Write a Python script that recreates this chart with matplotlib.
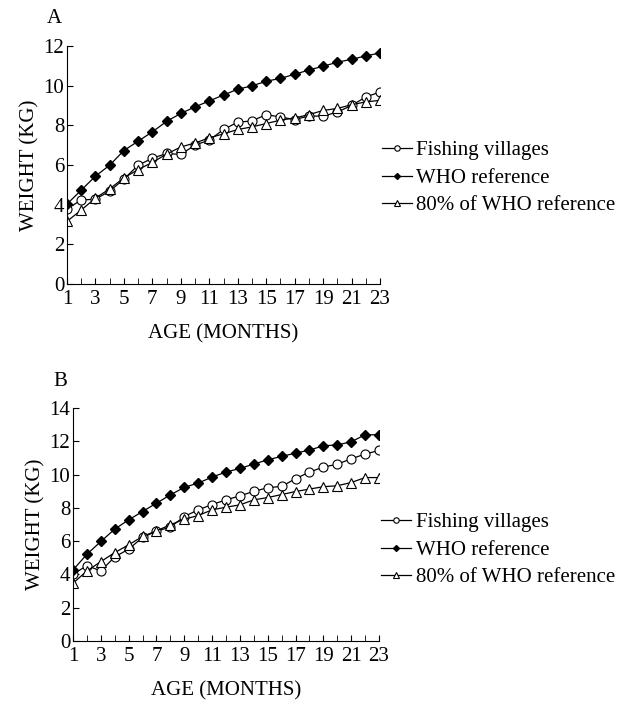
import matplotlib.pyplot as plt

plt.rcParams['font.family'] = ['Liberation Serif', 'DejaVu Serif']

months = list(range(1, 24))

# panel A
fishing_a = [3.79, 4.23, 4.28, 4.68, 5.29, 5.99, 6.34, 6.58, 6.53, 7.01, 7.25, 7.79,
             8.16, 8.22, 8.54, 8.42, 8.29, 8.47, 8.46, 8.67, 9.0, 9.43, 9.68]
who_a = [4.03, 4.73, 5.44, 5.99, 6.73, 7.2, 7.67, 8.2, 8.6, 8.93, 9.23, 9.53,
         9.82, 9.99, 10.22, 10.37, 10.57, 10.79, 10.98, 11.18, 11.33, 11.5, 11.65]
who80_a = [3.16, 3.73, 4.33, 4.8, 5.35, 5.77, 6.13, 6.55, 6.91, 7.11, 7.37, 7.57,
           7.79, 7.92, 8.09, 8.26, 8.37, 8.54, 8.75, 8.85, 9.04, 9.18, 9.26]

# panel B
fishing_b = [4.01, 4.53, 4.21, 5.05, 5.52, 6.22, 6.6, 6.84, 7.48, 7.88, 8.2, 8.48,
             8.72, 8.99, 9.21, 9.29, 9.75, 10.15, 10.45, 10.62, 10.95, 11.23, 11.45]
who_b = [4.27, 5.21, 5.98, 6.72, 7.28, 7.78, 8.28, 8.78, 9.23, 9.49, 9.85, 10.15,
         10.37, 10.63, 10.89, 11.09, 11.29, 11.47, 11.73, 11.78, 11.97, 12.39, 12.39]
who80_b = [3.47, 4.21, 4.77, 5.31, 5.78, 6.28, 6.62, 6.98, 7.32, 7.54, 7.88, 8.04,
           8.18, 8.48, 8.62, 8.8, 8.98, 9.13, 9.27, 9.33, 9.52, 9.82, 9.82]

series_names = ['Fishing villages', 'WHO reference', '80% of WHO reference']
xtick_labels = [str(m) for m in range(1, 24, 2)]


def draw_panel(ax, fishing, who, who80, ymax, letter, leg_y):
    ax.plot(months, fishing, color='black', lw=0.9, marker='o', ms=6.5,
            mfc='white', mec='black', mew=0.8, label=series_names[0])
    ax.plot(months, who, color='black', lw=0.9, marker='D', ms=5,
            mfc='black', mec='black', label=series_names[1])
    ax.plot(months, who80, color='black', lw=0.9, marker='^', ms=6.5,
            mfc='white', mec='black', mew=0.8, label=series_names[2])
    ax.set_xlim(1, 23)
    ax.set_ylim(0, ymax)
    ax.set_xticks(range(1, 24, 2))
    ax.set_xticklabels(xtick_labels)
    ax.set_xticks(months, minor=True)
    ax.set_yticks(range(0, ymax + 1, 2))
    for s in ['top', 'right']:
        ax.spines[s].set_visible(False)
    ax.tick_params(direction='in', length=4, labelsize=15)
    ax.tick_params(axis='x', pad=4)
    ax.tick_params(axis='y', pad=2)
    ax.tick_params(which='minor', direction='in', length=4)
    ax.set_ylabel('WEIGHT (KG)', fontsize=15, labelpad=3)
    ax.set_xlabel('AGE (MONTHS)', fontsize=15, labelpad=11)
    ax.text(-0.065, 1.075, letter, transform=ax.transAxes, fontsize=15,
            ha='left', va='bottom')
    ax.legend(loc='center left', bbox_to_anchor=(0.98, leg_y), frameon=False,
              fontsize=15, handlelength=1.45, handletextpad=0.2,
              labelspacing=0.38, borderaxespad=0, markerscale=0.6)


fig = plt.figure(figsize=(6.28, 7.02), dpi=100)
ax1 = fig.add_axes([67 / 628, 1 - 284 / 702, 313 / 628, 238 / 702])
ax2 = fig.add_axes([73 / 628, 1 - 641 / 702, 306 / 628, 233 / 702])
draw_panel(ax1, fishing_a, who_a, who80_a, 12, 'A', 0.445)
draw_panel(ax2, fishing_b, who_b, who80_b, 14, 'B', 0.39)

fig.savefig('out.png', dpi=100)
